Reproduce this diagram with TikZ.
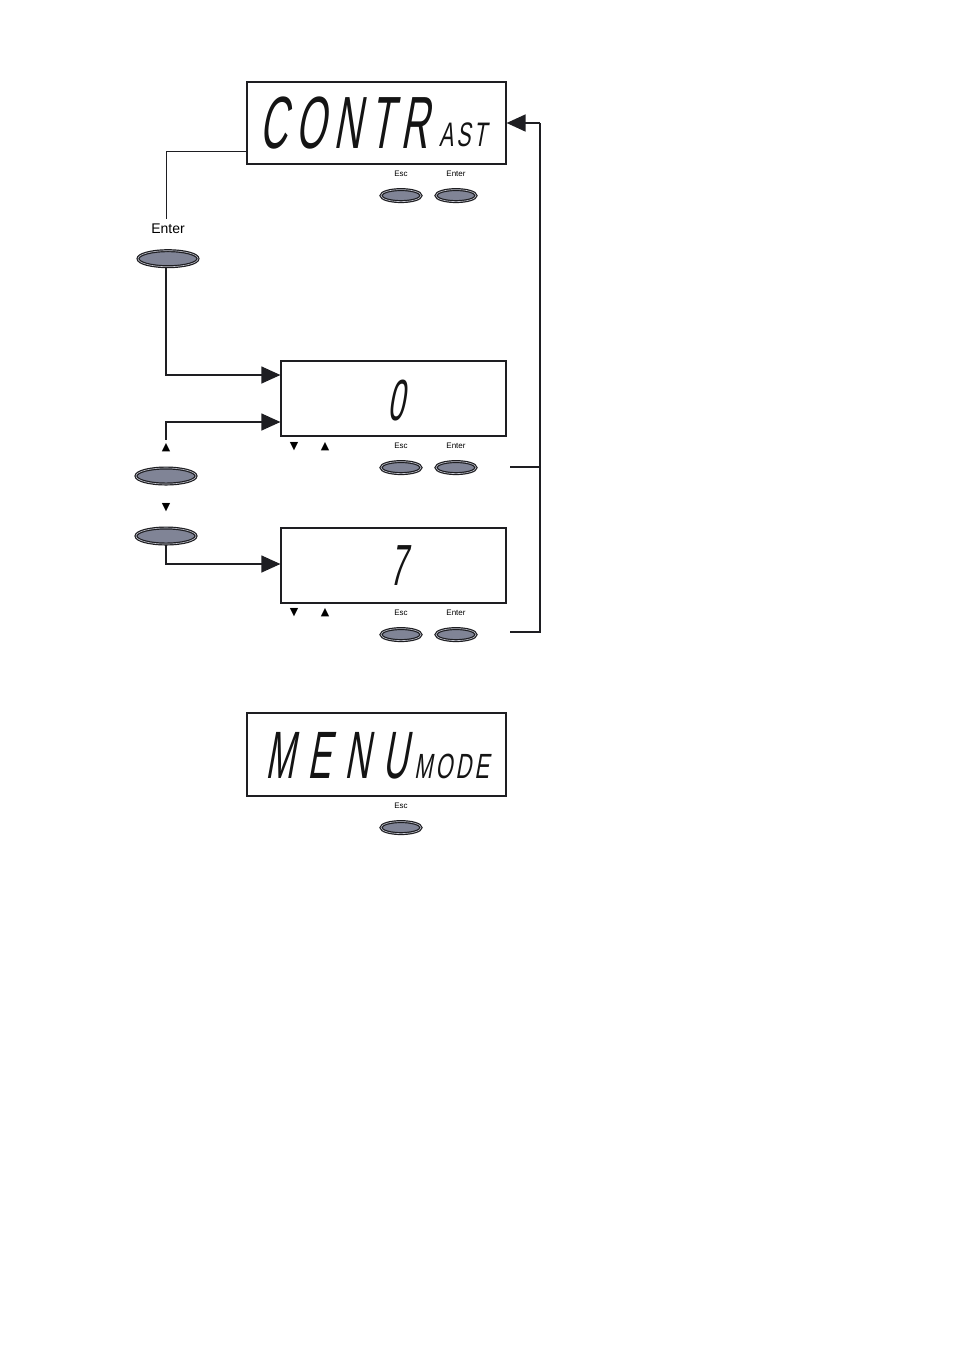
\documentclass[tikz,border=0pt]{standalone}
\usepackage{fontspec}
\setmainfont{Liberation Sans}
\newfontfamily\lcdfont{Liberation Sans}[FakeSlant=0.18,FakeStretch=0.52,LetterSpace=11]
\newfontfamily\lcdwide{Liberation Sans}[FakeSlant=0.18,FakeStretch=0.52,LetterSpace=20]
\newfontfamily\lcdsmall{Liberation Sans}[FakeSlant=0.18,FakeStretch=0.62,LetterSpace=9]
\newfontfamily\symfont{DejaVu Sans}
\usetikzlibrary{shapes.geometric, arrows.meta, positioning, calc}
\definecolor{mydark}{RGB}{30,30,34}
\definecolor{lcdink}{RGB}{20,20,20}
\definecolor{btnfill}{RGB}{128,132,150}
\definecolor{btnring}{RGB}{196,198,208}
\tikzset{
  lcd/.style={rectangle, draw=mydark, line width=1.2pt, fill=white,
    inner sep=0pt},
  lcdtxt/.style={font=\lcdfont\fontsize{#1}{#1}\selectfont,
    inner sep=0pt, text=lcdink},
  lcdwidetxt/.style={font=\lcdwide\fontsize{#1}{#1}\selectfont,
    inner sep=0pt, text=lcdink},
  lcdsub/.style={font=\lcdsmall\fontsize{#1}{#1}\selectfont,
    inner sep=0pt, text=lcdink},
  keylbl/.style={font=\fontsize{8}{9}\selectfont, inner sep=0pt},
  biglbl/.style={font=\fontsize{14}{16}\selectfont, inner sep=0pt},
  symlbl/.style={font=\symfont\fontsize{11}{11}\selectfont, inner sep=0pt},
  keybtn/.style={ellipse, fill=btnfill, draw=mydark, line width=1.2pt,
    double=btnring, double distance=0.6pt,
    minimum width=40pt, minimum height=12pt, inner sep=0pt},
  bigbtn/.style={keybtn, minimum width=60pt, minimum height=16pt},
  arrow/.style={-{Triangle[length=19pt,width=17pt]}, line width=1.2pt, color=mydark},
  line/.style={line width=1pt, color=mydark},
  backline/.style={line width=1.6pt, color=mydark}
}
\begin{document}
\begin{tikzpicture}[x=1pt, y=-1pt, node distance=12pt]
  \fill[white] (0,0) rectangle (954,1350);
  \useasboundingbox (0,0) rectangle (954,1350);
  % displays
  \node[lcd, minimum width=259pt, minimum height=82pt] (cA) at (376.5,123) {};
  \node[lcd, minimum width=225pt, minimum height=75pt] (c0) at (393.5,398.5) {};
  \node[lcd, minimum width=225pt, minimum height=75pt] (c7) at (393.5,565.5) {};
  \node[lcd, minimum width=259pt, minimum height=83pt] (cM) at (376.5,754.5) {};
  % display texts
  \node[lcdtxt=74, anchor=base west] (contr) at (259,148) {CONTR};
  \node[lcdsub=34, anchor=base west] (ast) at (439,146) {AST};
  \node[lcdtxt=58, anchor=base] (zero) at (396,420) {0};
  \node[lcdtxt=58, anchor=base] (seven) at (398,585) {7};
  \node[lcdwidetxt=67, anchor=base west] (menu) at (265,778) {MENU};
  \node[lcdsub=35, anchor=base west] (mode) at (414,778) {MODE};
  % keys of the contrast display
  \node[keylbl] (escA) at (401,174) {Esc};
  \node[keylbl] (entA) at (456,174) {Enter};
  \node[keybtn, below=of escA] (escbA) {};
  \node[keybtn, below=of entA] (entbA) {};
  % keys of the value displays
  \node[symlbl] (dn0) at (294,447) {▼};
  \node[symlbl] (up0) at (325,447) {▲};
  \node[keylbl] (esc0) at (401,446) {Esc};
  \node[keylbl] (ent0) at (456,446) {Enter};
  \node[keybtn, below=of esc0] (escb0) {};
  \node[keybtn, below=of ent0] (entb0) {};
  \node[symlbl] (dn7) at (294,613) {▼};
  \node[symlbl] (up7) at (325,613) {▲};
  \node[keylbl] (esc7) at (401,613) {Esc};
  \node[keylbl] (ent7) at (456,613) {Enter};
  \node[keybtn, below=of esc7] (escb7) {};
  \node[keybtn, below=of ent7] (entb7) {};
  % key of the menu display
  \node[keylbl] (escM) at (401,806) {Esc};
  \node[keybtn, below=of escM] (escbM) {};
  % keys on the left
  \node[biglbl] (entlbl) at (168,229) {Enter};
  \node[bigbtn, below=16pt of entlbl] (entbtn) {};
  \node[symlbl] (uplbl) at (166,448) {▲};
  \node[bigbtn, below=15pt of uplbl] (upbtn) {};
  \node[symlbl] (dnlbl) at (166,508) {▼};
  \node[bigbtn, below=15pt of dnlbl] (dnbtn) {};
  % connectors
  \coordinate (tap) at (166,151);
  \coordinate (ret0) at (510,467);
  \coordinate (ret7) at (510,632);
  \coordinate (rail) at (540,0);
  \draw[line] (cA.west |- tap) -- (tap) -- ([yshift=5pt]tap |- entlbl.north);
  \draw[arrow] (entbtn.south -| tap) |- ([yshift=23.5pt]c0.west);
  \draw[arrow] ([yshift=4pt]uplbl.north -| tap) |- ([yshift=-23.5pt]c0.west);
  \draw[arrow] (dnbtn.south -| tap) |- ([yshift=1.5pt]c7.west);
  \draw[backline] (ret0) -- (ret0 -| rail);
  \draw[backline] (ret7) -| (rail |- cA.east);
  \draw[arrow, line width=1.6pt] (rail |- cA.east) -- (cA.east);
\end{tikzpicture}
\end{document}
